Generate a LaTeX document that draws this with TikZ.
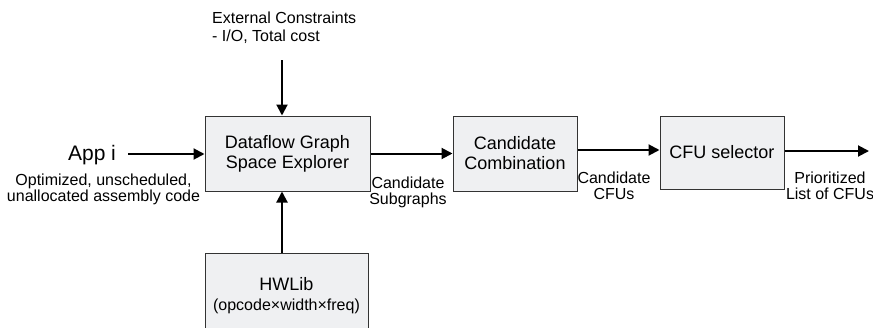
\documentclass[tikz,border=0pt]{standalone}
\usepackage{fontspec}
\setmainfont{Liberation Sans}
\usetikzlibrary{arrows.meta}
\definecolor{boxfill}{HTML}{EFF0F2}
\tikzset{
  blk/.style={draw=black!80,fill=boxfill,line width=1pt,minimum height=75pt,inner sep=0pt,align=center,font=\fontsize{18}{20}\selectfont},
  fl/.style={line width=2pt,-{Triangle[length=11pt,width=11pt]}},
  lbl/.style={align=center,inner sep=0pt,font=\fontsize{16}{16}\selectfont}
}

\begin{document}
\begin{tikzpicture}[x=1pt,y=-1pt]
\useasboundingbox (0,0) rectangle (873,327);
% blocks
\node[blk,minimum width=165pt] (dfg) at (287.5,153.5) {Dataflow Graph\\Space Explorer};
\node[blk,minimum width=124pt] (comb) at (515,153.5) {Candidate\\Combination};
\node[blk,minimum width=124pt,minimum height=73pt] (sel) at (722,152.5) {CFU selector};
\node[blk,minimum width=163pt,minimum height=84pt,anchor=north] (hw) at (286.5,253) {HWLib\\{\fontsize{16}{18}\selectfont(opcode×width×freq)}};
% free ends
\coordinate (ext) at (282,60);
\coordinate (app) at (128,154);
\coordinate (out) at (869,151);
% flow
\draw[fl] (ext) -- (ext |- dfg.north);
\draw[fl] (hw.north -| ext) -- (dfg.south -| ext);
\draw[fl] (app) -- (app -| dfg.west);
\draw[fl] (dfg.east) -- (comb.west);
\draw[fl] ([yshift=3.5pt]comb.east) -- ([yshift=3.5pt]comb.east -| sel.west);
\draw[fl] (sel.east |- out) -- (out);
% labels
\node[lbl,align=left,anchor=north west,font=\fontsize{16}{18}\selectfont] (extlbl) at (212,12) {External Constraints\\- I/O, Total cost};
\node[inner sep=0pt,font=\fontsize{21}{23}\selectfont] (applbl) at (92,155) {App i};
\node[lbl,anchor=north] (asmlbl) at (103.5,174) {Optimized, unscheduled,\\unallocated assembly code};
\node[lbl,anchor=north] (sglbl) at (408,177) {Candidate\\Subgraphs};
\node[lbl,anchor=north] (cfulbl) at (614,172) {Candidate\\CFUs};
\node[lbl,anchor=north] (prlbl) at (830,172) {Prioritized\\List of CFUs};
\end{tikzpicture}
\end{document}
